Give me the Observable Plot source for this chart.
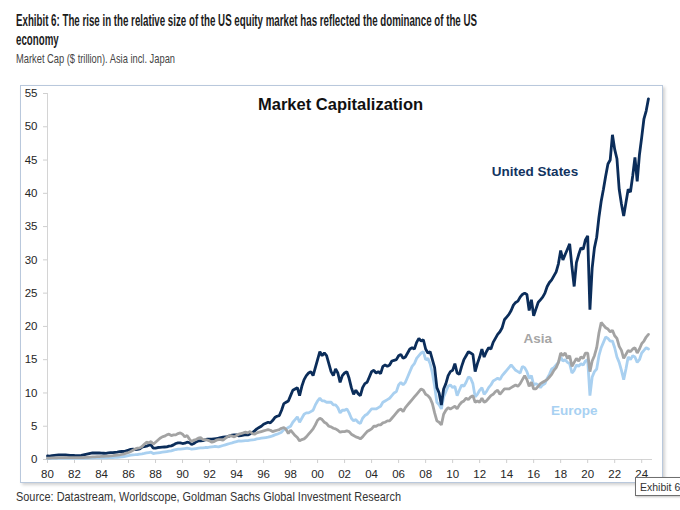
<!DOCTYPE html>
<html>
<head>
<meta charset="utf-8">
<script src="https://cdn.jsdelivr.net/npm/d3@7"></script>
<script src="https://cdn.jsdelivr.net/npm/@observablehq/plot@0.6"></script>
<style>
  html, body { margin: 0; padding: 0; background: #fff; }
  body { width: 680px; height: 510px; position: relative; overflow: hidden; }
  .txt { position: absolute; left: 16px; white-space: nowrap; line-height: 1; transform-origin: left center; display: inline-block; }
  #t1, #t2 { font-family: "Liberation Sans Narrow", "Liberation Sans", Arial, sans-serif; font-weight: bold; font-size: 17px; color: #1c1c1c; }
  #t1 { top: 12px; }
  #t2 { top: 30.5px; }
  #sub { font-family: "Liberation Sans Narrow", "Liberation Sans", Arial, sans-serif; font-size: 13.5px; color: #454545; top: 51.5px; }
  #src { font-family: "Liberation Sans Narrow", "Liberation Sans", Arial, sans-serif; font-size: 13.5px; color: #333; top: 489.5px; }
  #frame { position: absolute; left: 20px; top: 85px; width: 643px; height: 398px; box-sizing: border-box;
           border: 1.5px solid #b9c8dc; box-shadow: 2px 2px 3px rgba(0,0,0,0.18); background: #fff; }
  #chart { position: absolute; left: 0; top: 85px; }
  #tip { position: absolute; left: 635px; top: 477px; width: 70px; height: 19px; box-sizing: border-box;
         border: 1px solid #6f6f6f; background: #fff; box-shadow: 1px 1px 2px rgba(0,0,0,0.25);
         font-family: "Liberation Sans", Arial, sans-serif; font-size: 10.5px; color: #333; padding: 3px 0 0 4px; }
</style>
</head>
<body>
<div id="t1" class="txt" data-fit="461">Exhibit 6: The rise in the relative size of the US equity market has reflected the dominance of the US</div>
<div id="t2" class="txt">economy</div>
<div id="sub" class="txt" data-fit="159">Market Cap ($ trillion). Asia incl. Japan</div>
<div id="frame"></div>
<div id="chart"></div>
<div id="src" class="txt" data-fit="385">Source: Datastream, Worldscope, Goldman Sachs Global Investment Research</div>
<div id="tip">Exhibit 6</div>
<script>
// ---- data: bimonthly observations starting Jan 1980 ($ trillion) ----
const startYear = 1980;
const stepsPerYear = 6;

const usValues = [
  0.55,0.52,0.58,0.62,0.66,0.70, // 1980
  0.68,0.70,0.68,0.64,0.60,0.63, // 1981
  0.60,0.58,0.58,0.62,0.70,0.78, // 1982
  0.85,0.92,0.98,1.00,0.98,1.00, // 1983
  0.96,0.94,0.92,0.98,1.02,1.04, // 1984
  1.08,1.12,1.18,1.22,1.20,1.30, // 1985
  1.40,1.52,1.55,1.50,1.52,1.60, // 1986
  1.85,1.95,2.00,2.15,2.20,1.70, // 1987
  1.72,1.80,1.82,1.85,1.88,1.90, // 1988
  2.00,2.05,2.20,2.40,2.50,2.50, // 1989
  2.40,2.45,2.60,2.55,2.25,2.40, // 1990
  2.65,2.80,2.80,2.85,2.95,3.05, // 1991
  3.05,3.05,3.10,3.15,3.20,3.30, // 1992
  3.35,3.40,3.45,3.55,3.65,3.70, // 1993
  3.70,3.55,3.60,3.65,3.75,3.70, // 1994
  3.85,4.05,4.30,4.60,4.80,5.00, // 1995
  5.30,5.45,5.60,5.50,5.85,6.30, // 1996
  6.50,6.60,7.40,8.40,8.60,8.80, // 1997
  9.60,10.4,10.6,10.8,9.60,11.0, // 1998
  12.0,12.6,13.0,13.2,12.6,13.8, // 1999
  15.0,16.2,15.6,16.0,15.6,14.4, // 2000
  13.2,12.6,13.6,13.0,11.6,12.6, // 2001
  13.0,13.2,12.2,10.8,9.80,10.4, // 2002
  9.90,9.60,10.8,11.4,11.6,12.4, // 2003
  13.2,13.4,13.0,13.2,12.9,14.0, // 2004
  14.2,14.0,14.2,14.8,14.9,15.0, // 2005
  15.6,15.8,15.2,15.4,16.0,16.6, // 2006
  16.8,16.6,17.6,18.2,17.8,18.0, // 2007
  16.6,16.0,16.2,15.0,13.8,10.8, // 2008
  10.0,8.20,10.6,11.4,12.6,13.2, // 2009
  13.4,14.4,13.0,12.8,14.0,15.0, // 2010
  15.6,16.2,16.0,15.8,13.2,14.4, // 2011
  15.4,16.6,15.4,16.2,16.8,16.6, // 2012
  17.6,18.2,18.8,19.2,19.8,21.0, // 2013
  21.4,21.8,22.4,23.2,23.6,23.8, // 2014
  24.4,24.8,25.0,24.8,22.4,24.0, // 2015
  21.6,22.6,23.6,24.0,24.4,25.0, // 2016
  26.0,26.6,27.0,27.6,28.2,29.4, // 2017
  31.4,30.0,30.8,31.6,32.4,29.0, // 2018
  26.0,29.6,30.8,31.8,31.6,33.0, // 2019
  33.6,22.5,28.8,31.8,33.4,36.4, // 2020
  38.8,40.6,42.6,44.4,45.0,48.8, // 2021
  46.6,45.2,40.6,38.4,36.6,38.6, // 2022
  40.6,40.2,42.6,45.4,41.8,45.8, // 2023
  48.4,51.2,52.4,54.2            // 2024
];

const asiaValues = [
  0.20,0.22,0.24,0.25,0.26,0.27, // 1980
  0.28,0.29,0.30,0.29,0.28,0.29, // 1981
  0.28,0.27,0.28,0.29,0.30,0.32, // 1982
  0.34,0.36,0.38,0.40,0.42,0.44, // 1983
  0.46,0.48,0.50,0.52,0.55,0.58, // 1984
  0.62,0.66,0.70,0.76,0.84,0.95, // 1985
  1.05,1.20,1.40,1.60,1.70,1.75, // 1986
  1.95,2.30,2.60,2.50,2.70,2.30, // 1987
  2.60,2.90,3.20,3.40,3.50,3.70, // 1988
  3.80,3.60,3.70,3.70,3.90,4.00, // 1989
  3.80,3.40,3.60,3.10,2.70,2.90, // 1990
  3.00,3.20,3.30,3.00,3.00,2.90, // 1991
  2.80,2.60,2.70,2.90,3.00,3.00, // 1992
  2.90,3.20,3.40,3.60,3.50,3.40, // 1993
  3.60,3.80,3.90,4.00,4.10,4.00, // 1994
  4.20,3.90,3.80,4.00,4.10,4.20, // 1995
  4.30,4.40,4.50,4.40,4.20,4.30, // 1996
  4.40,4.50,4.70,4.80,4.50,3.90, // 1997
  4.40,4.00,3.60,3.30,2.80,3.00, // 1998
  3.10,3.40,3.80,4.20,4.60,5.20, // 1999
  5.90,6.20,6.00,5.60,5.40,5.00, // 2000
  4.90,4.70,4.60,4.40,4.10,4.20, // 2001
  4.20,4.30,4.20,3.80,3.60,3.40, // 2002
  3.30,3.10,3.40,3.80,4.20,4.40, // 2003
  4.60,5.00,5.00,5.20,5.20,5.50, // 2004
  5.60,5.80,5.80,6.20,6.60,7.00, // 2005
  7.40,7.60,7.20,7.80,8.20,8.60, // 2006
  9.00,9.40,9.80,10.2,10.6,10.4, // 2007
  9.80,9.60,9.20,8.40,7.00,5.80, // 2008
  5.60,5.20,6.80,7.40,7.80,7.60, // 2009
  7.80,8.00,7.60,8.20,8.60,8.80, // 2010
  9.20,9.00,9.40,9.60,8.60,8.80, // 2011
  8.60,9.20,8.60,8.80,9.20,9.60, // 2012
  9.80,10.2,10.4,9.80,10.2,10.6, // 2013
  10.6,10.6,10.8,11.0,11.2,11.0, // 2014
  11.4,12.0,12.6,12.0,11.0,11.6, // 2015
  10.6,10.6,11.0,11.4,11.6,11.8, // 2016
  12.0,12.4,12.8,13.4,13.8,14.6, // 2017
  16.0,15.6,16.0,15.2,15.6,14.0, // 2018
  14.6,15.2,14.8,15.4,15.2,16.0, // 2019
  16.0,13.2,14.8,15.6,16.8,19.0, // 2020
  20.6,20.2,19.8,19.6,19.2,19.4, // 2021
  18.6,18.2,17.0,16.4,15.2,15.8, // 2022
  16.4,16.2,16.6,16.8,16.0,16.6, // 2023
  17.4,17.8,18.4,18.8            // 2024
];

const europeValues = [
  0.15,0.15,0.16,0.16,0.17,0.17, // 1980
  0.17,0.17,0.16,0.16,0.16,0.16, // 1981
  0.16,0.16,0.16,0.17,0.18,0.19, // 1982
  0.20,0.21,0.22,0.23,0.23,0.24, // 1983
  0.25,0.26,0.26,0.27,0.28,0.30, // 1984
  0.32,0.34,0.37,0.40,0.45,0.50, // 1985
  0.58,0.65,0.70,0.72,0.75,0.80, // 1986
  0.85,0.92,1.00,1.05,1.10,0.90, // 1987
  0.95,1.00,1.05,1.10,1.15,1.20, // 1988
  1.25,1.30,1.40,1.50,1.55,1.55, // 1989
  1.60,1.65,1.70,1.65,1.55,1.60, // 1990
  1.65,1.70,1.75,1.75,1.80,1.80, // 1991
  1.85,1.90,1.95,1.95,1.90,2.00, // 1992
  2.10,2.20,2.30,2.40,2.50,2.60, // 1993
  2.70,2.80,2.75,2.80,2.85,2.85, // 1994
  2.90,2.95,3.00,3.10,3.15,3.20, // 1995
  3.25,3.30,3.35,3.45,3.55,3.70, // 1996
  3.80,3.95,4.10,4.50,4.60,4.80, // 1997
  5.00,5.60,6.00,6.40,5.60,6.20, // 1998
  6.80,7.00,7.00,7.20,7.40,8.20, // 1999
  8.80,9.20,8.80,8.80,8.60,8.60, // 2000
  8.60,8.20,8.20,7.80,7.00,7.40, // 2001
  7.40,7.60,7.00,6.20,5.80,6.00, // 2002
  5.60,5.40,6.20,6.60,6.80,7.20, // 2003
  7.60,7.60,7.60,7.80,8.00,8.60, // 2004
  8.80,9.00,9.20,9.60,10.0,10.2, // 2005
  11.2,11.6,11.2,11.6,12.4,13.2, // 2006
  14.0,14.4,15.2,15.6,16.0,16.2, // 2007
  15.0,15.2,14.4,13.0,11.0,8.60, // 2008
  8.20,7.60,9.40,10.2,11.0,11.2, // 2009
  10.8,11.0,9.60,10.4,11.2,11.0, // 2010
  11.6,12.4,12.2,11.4,9.40,9.80, // 2011
  10.4,10.8,9.80,10.2,10.8,11.2, // 2012
  11.8,12.0,12.2,12.0,12.6,13.0, // 2013
  13.4,13.8,14.2,13.8,13.4,13.2, // 2014
  13.0,14.0,13.8,13.2,12.2,12.6, // 2015
  11.2,11.4,11.2,10.8,11.2,11.4, // 2016
  12.2,12.8,13.6,13.8,14.2,14.6, // 2017
  15.4,14.8,15.0,14.6,14.4,13.0, // 2018
  13.4,14.2,14.0,14.4,14.2,14.8, // 2019
  15.0,9.60,12.4,13.2,13.6,15.6, // 2020
  16.8,17.6,18.4,18.2,17.8,17.8, // 2021
  16.8,15.4,14.6,13.4,12.0,13.6, // 2022
  15.4,15.0,15.6,15.4,14.6,15.0, // 2023
  16.0,16.4,16.8,16.6            // 2024
];

const seriesNames = ["United States", "Asia", "Europe"];
const xTickYears = [1980,1982,1984,1986,1988,1990,1992,1994,1996,1998,2000,2002,2004,2006,2008,2010,2012,2014,2016,2018,2020,2022,2024];
const yTicks = [0,5,10,15,20,25,30,35,40,45,50,55];
const chartTitle = "Market Capitalization";

// ---- styles ----
const colors = { "United States": "#0b2d5a", "Asia": "#a3a3a3", "Europe": "#a9d0f0" };
const labelColors = { "United States": "#12335f", "Asia": "#a6a6a6", "Europe": "#a8d1f2" };

const rows = (vals) => vals.map((v, i) => ({ t: startYear + i / stepsPerYear, v }));
const usRows = rows(usValues), asiaRows = rows(asiaValues), europeRows = rows(europeValues);

const lw = 2.8;
const chart = Plot.plot({
  width: 680,
  height: 398,
  marginLeft: 47,
  marginRight: 28,
  marginTop: 8,
  marginBottom: 24,
  style: { background: "transparent", fontFamily: "'Liberation Sans', Arial, sans-serif", fontSize: "11.5px", color: "#222" },
  x: { domain: [1980, 2024.8] },
  y: { domain: [0, 55] },
  marks: [
    Plot.ruleX([1980], { y1: 0, y2: 55, stroke: "#d4d4d4", strokeWidth: 1 }),
    Plot.ruleY([0], { stroke: "#d4d4d4", strokeWidth: 1 }),
    Plot.axisY({ ticks: yTicks, tickSize: 4, tickPadding: 6, stroke: "#cfcfcf", fill: "#262626", label: null, anchor: "left" }),
    Plot.axisX({ ticks: xTickYears, tickFormat: d => String(d % 100).padStart(2, "0"), tickSize: 4, tickPadding: 6, stroke: "#cfcfcf", fill: "#262626", label: null, anchor: "bottom" }),
    Plot.lineY(europeRows, { x: "t", y: "v", stroke: colors["Europe"], strokeWidth: lw, strokeLinejoin: "miter" }),
    Plot.lineY(usRows, { x: "t", y: "v", stroke: colors["United States"], strokeWidth: lw, strokeLinejoin: "miter" }),
    Plot.lineY(asiaRows, { x: "t", y: "v", stroke: colors["Asia"], strokeWidth: lw, strokeLinejoin: "miter" }),
    Plot.text([chartTitle], { x: 2001.7, y: 53.3, text: d => d, fontSize: 16.5, fontWeight: "bold", fill: "#111" }),
    Plot.text([seriesNames[0]], { x: 2016.1, y: 43.3, text: d => d, fontSize: 13.5, fontWeight: "bold", fill: labelColors["United States"] }),
    Plot.text([seriesNames[1]], { x: 2016.3, y: 18.2, text: d => d, fontSize: 13.5, fontWeight: "bold", fill: labelColors["Asia"] }),
    Plot.text([seriesNames[2]], { x: 2019.0, y: 7.4, text: d => d, fontSize: 13.5, fontWeight: "bold", fill: labelColors["Europe"] })
  ]
});
document.getElementById("chart").appendChild(chart);

// fit condensed text lines to the reference widths
let titleScale = 1;
document.querySelectorAll("[data-fit]").forEach(el => {
  const w = el.getBoundingClientRect().width;
  const s = +el.dataset.fit / w;
  el.style.transform = `scaleX(${s})`;
  if (el.id === "t1") titleScale = s;
});
document.getElementById("t2").style.transform = `scaleX(${titleScale})`;
</script>
</body>
</html>
